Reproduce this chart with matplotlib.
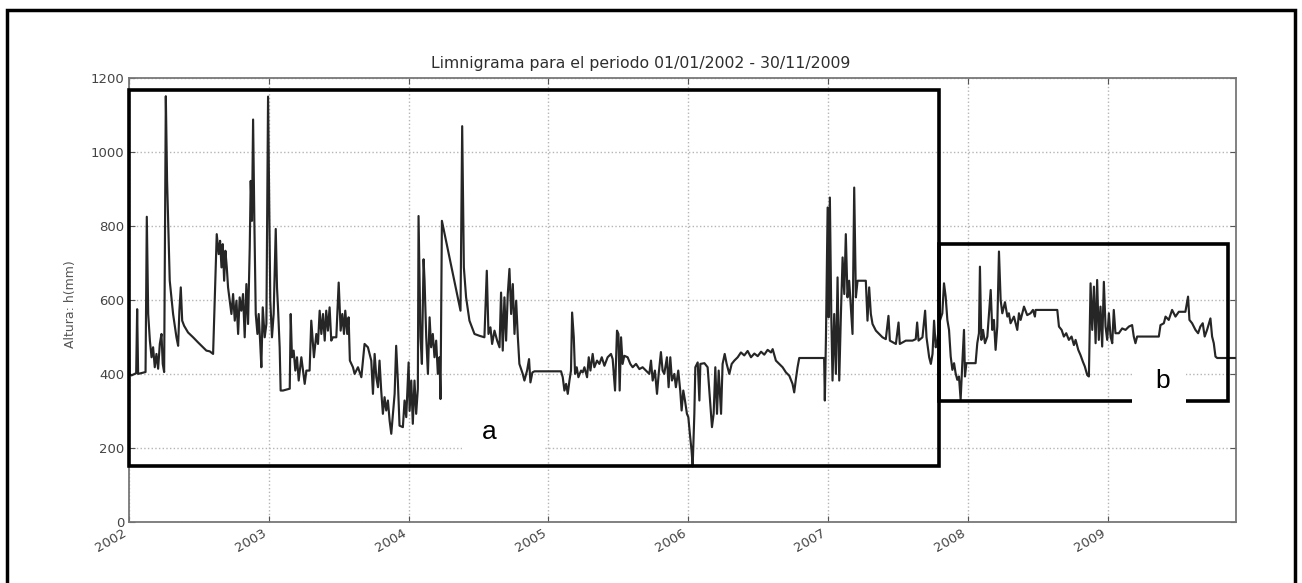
import matplotlib
matplotlib.use("Agg")
import matplotlib.pyplot as plt
from matplotlib.patches import Rectangle

# fecha en años decimales y altura del limnigrama (mm)
t_years = [
    2002.000, 2002.004, 2002.019, 2002.052, 2002.059, 2002.066, 2002.119, 2002.128,
    2002.138, 2002.150, 2002.162, 2002.173, 2002.185, 2002.197, 2002.209, 2002.221,
    2002.233, 2002.242, 2002.252, 2002.264, 2002.273, 2002.292, 2002.316, 2002.340,
    2002.352, 2002.361, 2002.371, 2002.381, 2002.395, 2002.423, 2002.459, 2002.495,
    2002.530, 2002.554, 2002.578, 2002.602, 2002.614, 2002.628, 2002.642, 2002.652,
    2002.662, 2002.671, 2002.681, 2002.690, 2002.700, 2002.709, 2002.721, 2002.733,
    2002.745, 2002.757, 2002.769, 2002.781, 2002.792, 2002.804, 2002.816, 2002.828,
    2002.840, 2002.852, 2002.864, 2002.871, 2002.880, 2002.888, 2002.897, 2002.907,
    2002.919, 2002.928, 2002.938, 2002.947, 2002.957, 2002.971, 2002.983, 2002.995,
    2003.004, 2003.011, 2003.023, 2003.035, 2003.050, 2003.059, 2003.066, 2003.078,
    2003.085, 2003.102, 2003.150, 2003.157, 2003.166, 2003.178, 2003.190, 2003.202,
    2003.214, 2003.233, 2003.245, 2003.257, 2003.269, 2003.292, 2003.304, 2003.323,
    2003.340, 2003.352, 2003.364, 2003.376, 2003.388, 2003.400, 2003.411, 2003.423,
    2003.435, 2003.447, 2003.459, 2003.483, 2003.500, 2003.514, 2003.526, 2003.538,
    2003.547, 2003.561, 2003.571, 2003.580, 2003.602, 2003.614, 2003.638, 2003.662,
    2003.685, 2003.709, 2003.733, 2003.745, 2003.757, 2003.769, 2003.781, 2003.792,
    2003.804, 2003.816, 2003.828, 2003.840, 2003.852, 2003.864, 2003.876, 2003.888,
    2003.900, 2003.911, 2003.923, 2003.935, 2003.959, 2003.971, 2003.983, 2004.000,
    2004.007, 2004.019, 2004.030, 2004.042, 2004.054, 2004.066, 2004.071, 2004.085,
    2004.095, 2004.107, 2004.114, 2004.126, 2004.138, 2004.150, 2004.161, 2004.173,
    2004.185, 2004.197, 2004.209, 2004.221, 2004.228, 2004.238, 2004.371, 2004.383,
    2004.395, 2004.411, 2004.435, 2004.471, 2004.507, 2004.542, 2004.559, 2004.571,
    2004.585, 2004.597, 2004.614, 2004.633, 2004.650, 2004.661, 2004.673, 2004.685,
    2004.697, 2004.709, 2004.721, 2004.733, 2004.745, 2004.757, 2004.769, 2004.781,
    2004.792, 2004.816, 2004.828, 2004.847, 2004.861, 2004.871, 2004.885, 2004.900,
    2005.090, 2005.102, 2005.114, 2005.126, 2005.138, 2005.150, 2005.161, 2005.169,
    2005.181, 2005.190, 2005.202, 2005.214, 2005.233, 2005.245, 2005.257, 2005.276,
    2005.288, 2005.300, 2005.316, 2005.328, 2005.347, 2005.364, 2005.381, 2005.400,
    2005.423, 2005.447, 2005.459, 2005.476, 2005.490, 2005.500, 2005.509, 2005.519,
    2005.530, 2005.542, 2005.566, 2005.585, 2005.602, 2005.626, 2005.650, 2005.673,
    2005.697, 2005.721, 2005.733, 2005.745, 2005.761, 2005.776, 2005.788, 2005.804,
    2005.816, 2005.828, 2005.847, 2005.859, 2005.871, 2005.883, 2005.900, 2005.911,
    2005.928, 2005.942, 2005.952, 2005.964, 2005.976, 2005.990, 2006.000, 2006.011,
    2006.023, 2006.031, 2006.043, 2006.050, 2006.067, 2006.079, 2006.086, 2006.115,
    2006.138, 2006.155, 2006.169, 2006.181, 2006.193, 2006.205, 2006.217, 2006.234,
    2006.245, 2006.260, 2006.274, 2006.293, 2006.310, 2006.329, 2006.353, 2006.376,
    2006.400, 2006.424, 2006.448, 2006.472, 2006.496, 2006.520, 2006.543, 2006.567,
    2006.591, 2006.603, 2006.626, 2006.650, 2006.674, 2006.698, 2006.722, 2006.745,
    2006.757, 2006.769, 2006.781, 2006.793, 2006.971, 2006.976, 2006.984, 2006.996,
    2007.003, 2007.012, 2007.022, 2007.031, 2007.043, 2007.055, 2007.067, 2007.079,
    2007.091, 2007.103, 2007.115, 2007.126, 2007.138, 2007.150, 2007.162, 2007.174,
    2007.186, 2007.198, 2007.210, 2007.269, 2007.281, 2007.293, 2007.305, 2007.317,
    2007.341, 2007.365, 2007.388, 2007.412, 2007.431, 2007.441, 2007.484, 2007.503,
    2007.512, 2007.555, 2007.603, 2007.626, 2007.636, 2007.646, 2007.674, 2007.693,
    2007.703, 2007.722, 2007.734, 2007.746, 2007.757, 2007.769, 2007.781, 2007.793,
    2007.816, 2007.828, 2007.840, 2007.852, 2007.864, 2007.876, 2007.888, 2007.900,
    2007.911, 2007.923, 2007.935, 2007.947, 2007.959, 2007.971, 2007.978, 2007.988,
    2008.054, 2008.066, 2008.078, 2008.085, 2008.095, 2008.107, 2008.121, 2008.138,
    2008.162, 2008.173, 2008.185, 2008.197, 2008.209, 2008.221, 2008.233, 2008.245,
    2008.264, 2008.281, 2008.292, 2008.304, 2008.328, 2008.352, 2008.364, 2008.376,
    2008.400, 2008.423, 2008.447, 2008.464, 2008.478, 2008.483, 2008.638, 2008.650,
    2008.669, 2008.685, 2008.702, 2008.721, 2008.740, 2008.757, 2008.769, 2008.788,
    2008.804, 2008.821, 2008.835, 2008.852, 2008.864, 2008.876, 2008.888, 2008.900,
    2008.912, 2008.923, 2008.935, 2008.947, 2008.959, 2008.971, 2008.983, 2008.995,
    2009.007, 2009.019, 2009.031, 2009.042, 2009.054, 2009.078, 2009.102, 2009.126,
    2009.150, 2009.173, 2009.185, 2009.197, 2009.209, 2009.364, 2009.376, 2009.400,
    2009.412, 2009.435, 2009.459, 2009.483, 2009.507, 2009.554, 2009.573, 2009.583,
    2009.602, 2009.626, 2009.645, 2009.661, 2009.678, 2009.692, 2009.709, 2009.733,
    2009.745, 2009.757, 2009.769, 2009.781, 2009.913,
]
altura_mm = [
    530, 400, 396, 402, 575, 400, 405, 825,
    562, 490, 445, 472, 418, 454, 414, 481,
    508, 427, 405, 1151, 922, 652, 562, 499,
    476, 571, 634, 544, 530, 512, 499, 485,
    472, 463, 461, 454, 607, 778, 724, 760,
    688, 751, 652, 733, 688, 634, 598, 562,
    616, 544, 598, 508, 607, 571, 616, 499,
    643, 535, 742, 922, 814, 1088, 814, 562,
    508, 562, 490, 418, 580, 499, 535, 1150,
    832, 598, 499, 562, 792, 634, 580, 472,
    355, 355, 360, 562, 445, 463, 409, 445,
    382, 445, 409, 373, 409, 409, 544, 445,
    508, 481, 571, 508, 562, 490, 571, 517,
    580, 490, 499, 499, 647, 517, 562, 508,
    571, 508, 553, 436, 418, 400, 418, 391,
    481, 472, 436, 346, 454, 391, 364, 436,
    355, 292, 337, 301, 328, 274, 238, 292,
    346, 476, 382, 260, 256, 328, 283, 431,
    300, 382, 265, 382, 292, 360, 827, 499,
    427, 710, 652, 499, 400, 553, 472, 508,
    445, 490, 400, 445, 332, 814, 571, 1070,
    688, 607, 544, 508, 503, 499, 679, 508,
    526, 481, 517, 490, 472, 620, 463, 607,
    490, 616, 684, 562, 643, 508, 598, 499,
    427, 400, 382, 409, 440, 377, 404, 407,
    407, 391, 355, 373, 346, 382, 409, 566,
    499, 400, 418, 391, 409, 404, 418, 391,
    445, 409, 454, 418, 436, 427, 445, 422,
    445, 454, 440, 355, 517, 508, 355, 499,
    427, 449, 445, 427, 418, 427, 413, 418,
    409, 400, 436, 382, 409, 346, 400, 459,
    409, 400, 445, 364, 445, 382, 400, 364,
    409, 355, 301, 355, 328, 292, 283, 238,
    193, 150, 292, 418, 431, 328, 427, 429,
    418, 328, 256, 292, 418, 292, 409, 292,
    427, 454, 427, 400, 427, 436, 445, 458,
    450, 462, 445, 455, 448, 460, 452, 465,
    458, 467, 436, 427, 418, 404, 395, 373,
    350, 386, 418, 443, 443, 328, 499, 850,
    553, 877, 562, 382, 562, 400, 661, 382,
    562, 715, 616, 778, 607, 652, 580, 508,
    904, 607, 652, 652, 544, 634, 562, 535,
    517, 508, 499, 494, 557, 490, 481, 539,
    481, 490, 490, 494, 539, 490, 499, 571,
    499, 445, 427, 454, 544, 472, 490, 537,
    564, 645, 609, 546, 519, 447, 411, 429,
    402, 384, 393, 330, 429, 519, 393, 429,
    429, 483, 510, 690, 492, 519, 483, 501,
    627, 519, 546, 465, 528, 731, 600, 564,
    594, 555, 564, 537, 555, 519, 564, 546,
    582, 559, 564, 573, 555, 573, 573, 528,
    519, 501, 510, 492, 501, 478, 492, 465,
    451, 433, 420, 397, 393, 645, 519, 636,
    483, 654, 492, 582, 474, 649, 528, 492,
    564, 501, 483, 573, 510, 510, 523, 519,
    528, 532, 501, 483, 501, 501, 532, 537,
    555, 546, 573, 555, 568, 568, 609, 546,
    537, 519, 510, 528, 537, 501, 519, 550,
    501, 483, 447, 443, 443,
]

years = list(range(2002, 2010))
y_ticks = [0, 200, 400, 600, 800, 1000, 1200]
x_start, x_end = 2002.0, 2009.913

# recuadros que marcan los tramos a y b: (x0, y0, x1, y1)
box_a = (2002.0, 151, 2007.795, 1168)
box_b = (2007.795, 328, 2009.862, 751)

fig = plt.figure(figsize=(13.02, 5.83), dpi=100)
ax = fig.add_axes([0.099, 0.105, 0.850, 0.761])

ax.plot(t_years, altura_mm, color='#262626', lw=1.55, zorder=3)

ax.set_xlim(x_start, x_end)
ax.set_ylim(0, 1200)
ax.set_xticks(years)
ax.set_xticklabels([str(y) for y in years], rotation=30, ha='right')
ax.set_yticks(y_ticks)
ax.tick_params(direction='in', length=4, labelsize=9.5, colors='#555555',
               labelcolor='#444444', top=True, right=True)
ax.grid(True, linestyle=':', color='#b5b5b5', lw=1.0)
for sp in ax.spines.values():
    sp.set_color('#777777')
    sp.set_linewidth(1.3)

ax.set_title("Limnigrama para el periodo 01/01/2002 - 30/11/2009",
             fontsize=11.3, color='#2e2e2e', pad=7, x=0.4625)
ax.set_ylabel("Altura: h(mm)", fontsize=9, color='#555555')
ax.yaxis.set_label_coords(-0.047, 0.49)

for x0, y0, x1, y1 in (box_a, box_b):
    ax.add_patch(Rectangle((x0, y0), x1 - x0, y1 - y0, fill=False,
                           ec='black', lw=2.6, zorder=5, clip_on=False))

# parches blancos bajo las letras
ax.add_patch(Rectangle((2004.38, 165), 0.59, 125, fc='white', ec='none', zorder=6))
ax.add_patch(Rectangle((2009.17, 318), 0.39, 106, fc='white', ec='none', zorder=6))
ax.text(2004.58, 244, "a", fontsize=19, family='Liberation Sans',
        ha='center', va='center', zorder=7)
ax.text(2009.39, 380, "b", fontsize=19, family='Liberation Sans',
        ha='center', va='center', zorder=7)

# marco exterior de la figura
fig.add_artist(Rectangle((0.005, -0.02), 0.99, 1.003, transform=fig.transFigure,
                         fill=False, ec='black', lw=2.5))

fig.savefig("out.png", dpi=100)
